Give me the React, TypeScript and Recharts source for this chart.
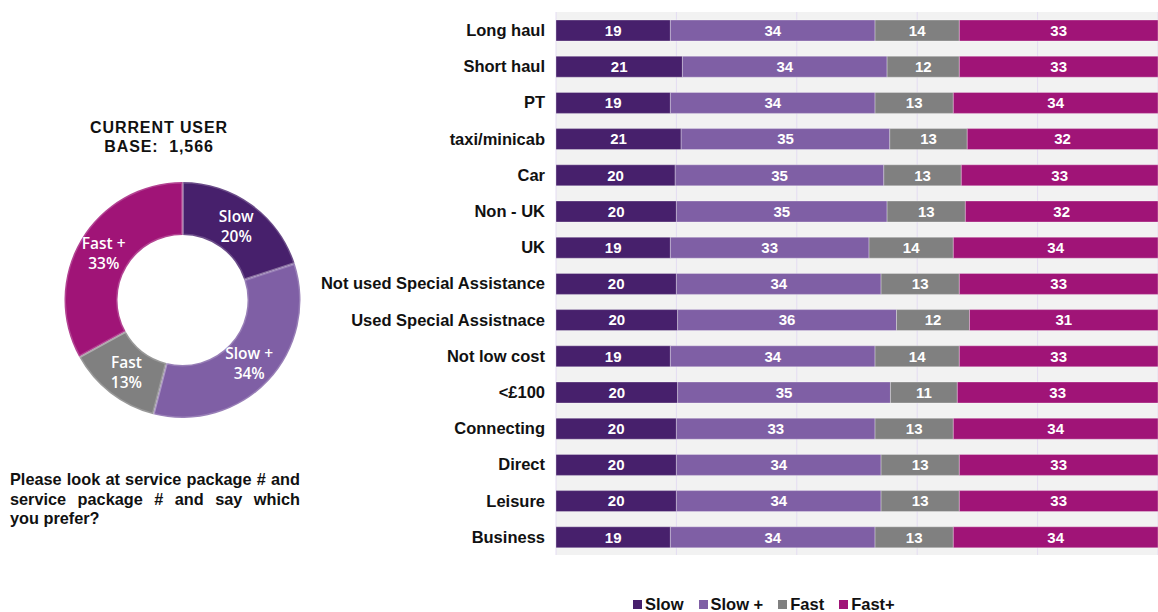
import React from "react";
import {
  BarChart,
  Bar,
  XAxis,
  YAxis,
  CartesianGrid,
  LabelList,
  PieChart,
  Pie,
  Cell,
} from "recharts";

const categories = [
  "Long haul",
  "Short haul",
  "PT",
  "taxi/minicab",
  "Car",
  "Non - UK",
  "UK",
  "Not used Special Assistance",
  "Used Special Assistnace",
  "Not low cost",
  "<£100",
  "Connecting",
  "Direct",
  "Leisure",
  "Business",
];

const slow = [19, 21, 19, 21, 20, 20, 19, 20, 20, 19, 20, 20, 20, 20, 19];
const slowPlus = [34, 34, 34, 35, 35, 35, 33, 34, 36, 34, 35, 33, 34, 34, 34];
const fast = [14, 12, 13, 13, 13, 13, 14, 13, 12, 14, 11, 13, 13, 13, 13];
const fastPlus = [33, 33, 34, 32, 33, 32, 34, 33, 31, 33, 33, 34, 33, 33, 34];

const seriesNames = ["Slow", "Slow +", "Fast", "Fast+"];
const donutNames = ["Slow", "Slow +", "Fast", "Fast +"];
const donutValues = [20, 34, 13, 33];
const gridTicks = [0, 0.2, 0.4, 0.6, 0.8, 1];

const questionLines = [
  "Please look at service package # and",
  "service package # and say which",
  "you prefer?",
];

const COLORS = ["#47206c", "#7f5fa5", "#808080", "#a01477"];
const FONT = "'Liberation Sans', Arial, sans-serif";

const data = categories.map((name, i) => ({
  name,
  slow: slow[i],
  slowPlus: slowPlus[i],
  fast: fast[i],
  fastPlus: fastPlus[i],
}));

const donutData = donutNames.map((name, i) => ({ name, value: donutValues[i] }));

const RADIAN = Math.PI / 180;

const renderDonutLabel = (props: any) => {
  const { cx, cy, midAngle, innerRadius, outerRadius, name, value } = props;
  const r = (innerRadius + outerRadius) / 2;
  const x = cx + r * Math.cos(-midAngle * RADIAN);
  const y = cy + r * Math.sin(-midAngle * RADIAN);
  return (
    <text
      x={x}
      y={y}
      fill="#ffffff"
      textAnchor="middle"
      fontFamily="'Open Sans', sans-serif"
      fontSize={15.5}
      fontWeight={600}
    >
      <tspan x={x} dy={-4}>
        {name}
      </tspan>
      <tspan x={x} dy={20}>
        {value}%
      </tspan>
    </text>
  );
};

const keys = ["slow", "slowPlus", "fast", "fastPlus"];

export default function App() {
  return (
    <div
      style={{
        position: "absolute",
        left: 0,
        top: 0,
        width: 1158,
        height: 612,
        background: "#ffffff",
        fontFamily: FONT,
      }}
    >
      {/* left panel */}
      <div
        style={{
          position: "absolute",
          left: 59,
          top: 118,
          width: 200,
          textAlign: "center",
          fontWeight: "bold",
          fontSize: 16,
          lineHeight: "19px",
          letterSpacing: 0.9,
          color: "#111",
        }}
      >
        CURRENT USER
        <br />
        BASE:&nbsp; 1,566
      </div>

      <div style={{ position: "absolute", left: 0, top: 150 }}>
        <PieChart width={360} height={300}>
          <Pie
            data={donutData}
            dataKey="value"
            nameKey="name"
            cx={177.5}
            cy={145}
            innerRadius={65}
            outerRadius={118}
            startAngle={90}
            endAngle={-270}
            stroke="rgba(255,255,255,0.2)"
            strokeWidth={3}
            label={renderDonutLabel}
            labelLine={false}
            isAnimationActive={false}
          >
            {donutData.map((d, i) => (
              <Cell key={d.name} fill={COLORS[i]} />
            ))}
          </Pie>
        </PieChart>
      </div>

      <div
        style={{
          position: "absolute",
          left: 10,
          top: 470,
          width: 290,
          fontWeight: "bold",
          fontSize: 16.3,
          lineHeight: "19.5px",
          color: "#111",
        }}
      >
        {questionLines.map((line, i) => (
          <div
            key={i}
            style={{
              textAlign: "justify",
              textAlignLast: i < questionLines.length - 1 ? "justify" : "left",
            }}
          >
            {line}
          </div>
        ))}
      </div>

      {/* stacked bars, 100% */}
      <div style={{ position: "absolute", left: 300, top: 0 }}>
        <BarChart
          width={858}
          height={612}
          data={data}
          layout="vertical"
          barSize={21}
          stackOffset="expand"
          margin={{ top: 12, right: 0, bottom: 57, left: 0 }}
        >
          <CartesianGrid horizontal={false} fill="#f2f2f2" stroke="#e4dcf2" />
          <XAxis type="number" domain={[0, 1]} ticks={gridTicks} hide />
          <YAxis
            type="category"
            dataKey="name"
            width={256}
            axisLine={false}
            tickLine={false}
            tickMargin={5}
            interval={0}
            tick={{ fill: "#111", fontSize: 16.5, fontWeight: "bold", fontFamily: FONT }}
          />
          {keys.map((k, i) => (
            <Bar
              key={k}
              dataKey={k}
              name={seriesNames[i]}
              stackId="a"
              fill={COLORS[i]}
              stroke="rgba(255,255,255,0.3)"
              strokeWidth={1}
              isAnimationActive={false}
            >
              <LabelList
                dataKey={k}
                position="center"
                fill="#ffffff"
                fontSize={15}
                fontWeight="bold"
                fontFamily={FONT}
              />
            </Bar>
          ))}
        </BarChart>
      </div>

      {/* legend */}
      <div
        style={{
          position: "absolute",
          left: 0,
          width: 1158,
          top: 594,
          display: "flex",
          paddingLeft: 633,
          boxSizing: "border-box",
          fontWeight: "bold",
          fontSize: 16.5,
          lineHeight: "20px",
          color: "#111",
        }}
      >
        {seriesNames.map((n, i) => (
          <div
            key={n}
            style={{ display: "flex", alignItems: "center", marginRight: 15 }}
          >
            <span
              style={{
                display: "inline-block",
                width: 9,
                height: 9,
                background: COLORS[i],
                marginRight: 3,
              }}
            />
            {n}
          </div>
        ))}
      </div>
    </div>
  );
}
